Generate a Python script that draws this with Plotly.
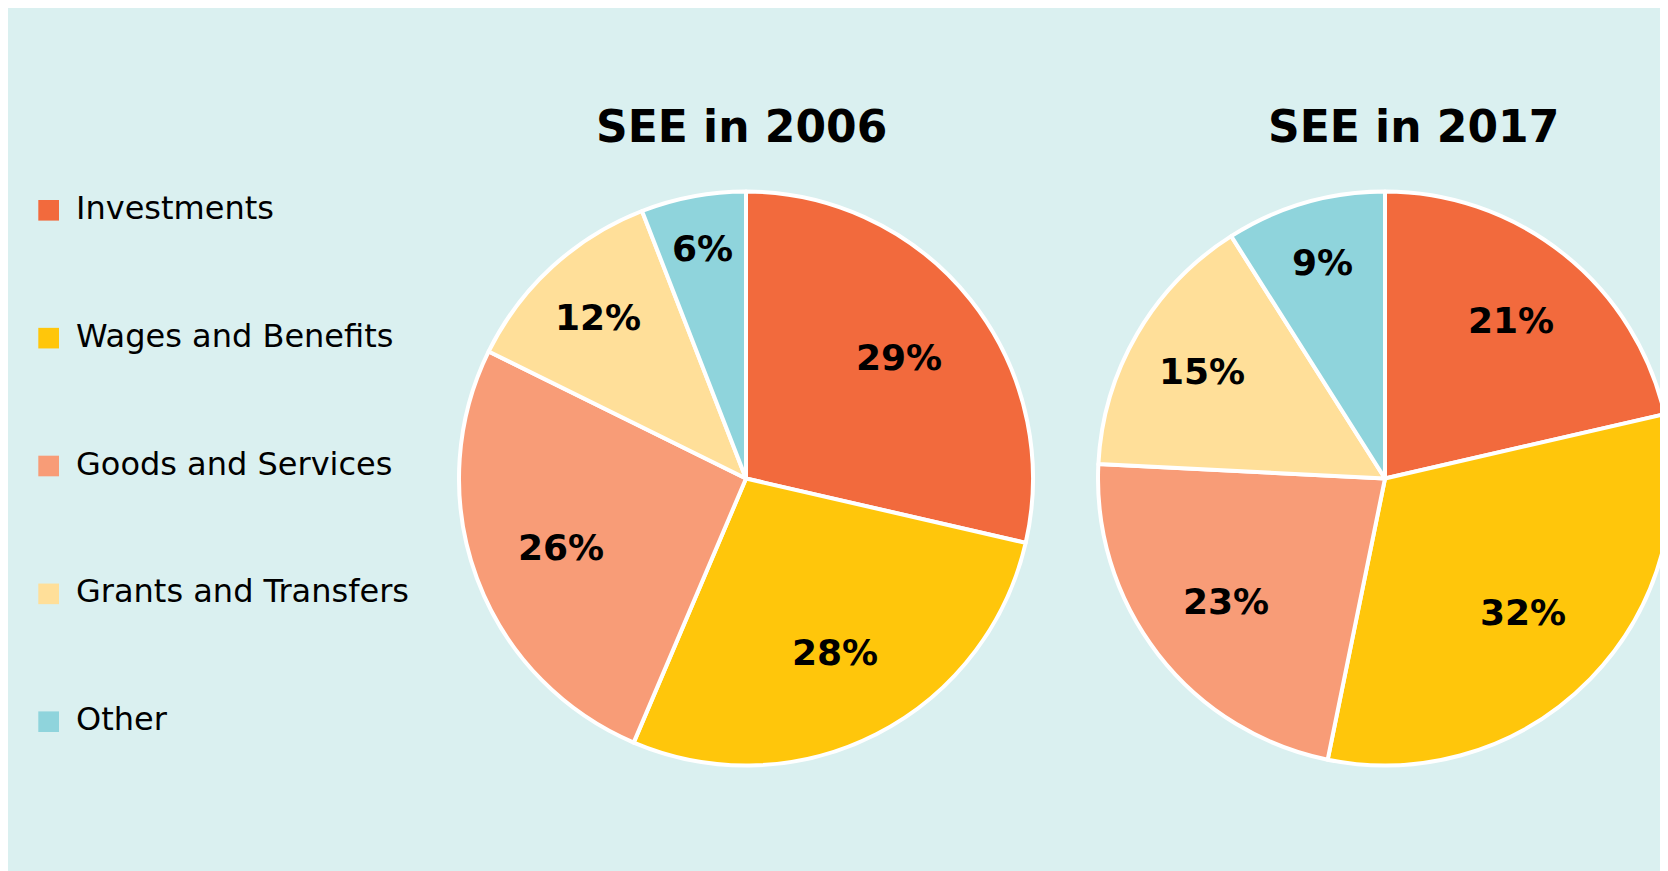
import math
import plotly.graph_objects as go

W, H = 1668, 871

categories = ["Investments", "Wages and Benefits", "Goods and Services",
              "Grants and Transfers", "Other"]
values_2006 = [28.6, 27.8, 25.9, 11.8, 5.9]
values_2017 = [21.4, 31.8, 22.6, 15.2, 9.0]
titles = ["SEE in 2006", "SEE in 2017"]
colors = ["#F26A3D", "#FFC60B", "#F89C77", "#FFDF99", "#8FD4DC"]
bg = "#DAF0F0"


def px_x(p):
    return p / W


def px_y(p):
    return 1 - p / H


fig = go.Figure()

# pie geometry (pixels in figure coordinates)
pies = [
    dict(vals=values_2006, cx=738, cy=470.5, r=287, title_x=733),
    dict(vals=values_2017, cx=1377, cy=470.5, r=287, title_x=1405),
]

annotations = []

for i, p in enumerate(pies):
    fig.add_trace(go.Pie(
        labels=categories,
        values=p["vals"],
        sort=False,
        direction="clockwise",
        rotation=0,
        marker=dict(colors=colors, line=dict(color="white", width=4)),
        textinfo="none",
        domain=dict(x=[px_x(p["cx"] - p["r"]), min(1, px_x(p["cx"] + p["r"]))],
                    y=[px_y(p["cy"] + p["r"]), px_y(p["cy"] - p["r"])]),
        showlegend=False,
        hoverinfo="label+percent",
    ))
    # percentage labels on slice bisectors; narrow slices push labels outward
    total = sum(p["vals"])
    cum = 0.0
    for v in p["vals"]:
        frac = v / total
        mid = (cum + v / 2) / total * 2 * math.pi
        cum += v
        half = frac * math.pi
        s = math.sin(min(half, math.pi / 2))
        r_center = 1 - s / (1 + s)
        dist = 0.41 + 0.48 * r_center
        lx = p["cx"] + dist * p["r"] * math.sin(mid)
        ly = p["cy"] - dist * p["r"] * math.cos(mid)
        annotations.append(dict(
            text="<b>%d%%</b>" % round(frac * 100),
            x=px_x(lx), y=px_y(ly), xref="paper", yref="paper",
            xanchor="center", yanchor="middle", showarrow=False,
            font=dict(family="DejaVu Sans", size=36, color="black")))
    annotations.append(dict(
        text="<b>%s</b>" % titles[i], x=px_x(p["title_x"]), y=px_y(118),
        xref="paper", yref="paper", xanchor="center", yanchor="middle",
        showarrow=False,
        font=dict(family="DejaVu Sans", size=44, color="black")))

shapes = []
# legend (squares + text)
leg_top = 202.3
leg_step = 127.85
for k, (cat, col) in enumerate(zip(categories, colors)):
    cy = leg_top + k * leg_step
    shapes.append(dict(type="rect", xref="paper", yref="paper", layer="above",
                       x0=px_x(30.3), x1=px_x(51), y0=px_y(cy + 10.3), y1=px_y(cy - 10.3),
                       fillcolor=col, line=dict(width=0)))
    annotations.append(dict(
        text=cat, x=px_x(65.5), y=px_y(cy - 2.5), xref="paper", yref="paper",
        xanchor="left", yanchor="middle", showarrow=False,
        font=dict(family="DejaVu Sans", size=32, color="black")))

fig.update_layout(
    width=W, height=H,
    margin=dict(l=0, r=0, t=0, b=0),
    paper_bgcolor=bg,
    shapes=shapes,
    annotations=annotations,
    showlegend=False,
)

fig.write_html("out.html")
